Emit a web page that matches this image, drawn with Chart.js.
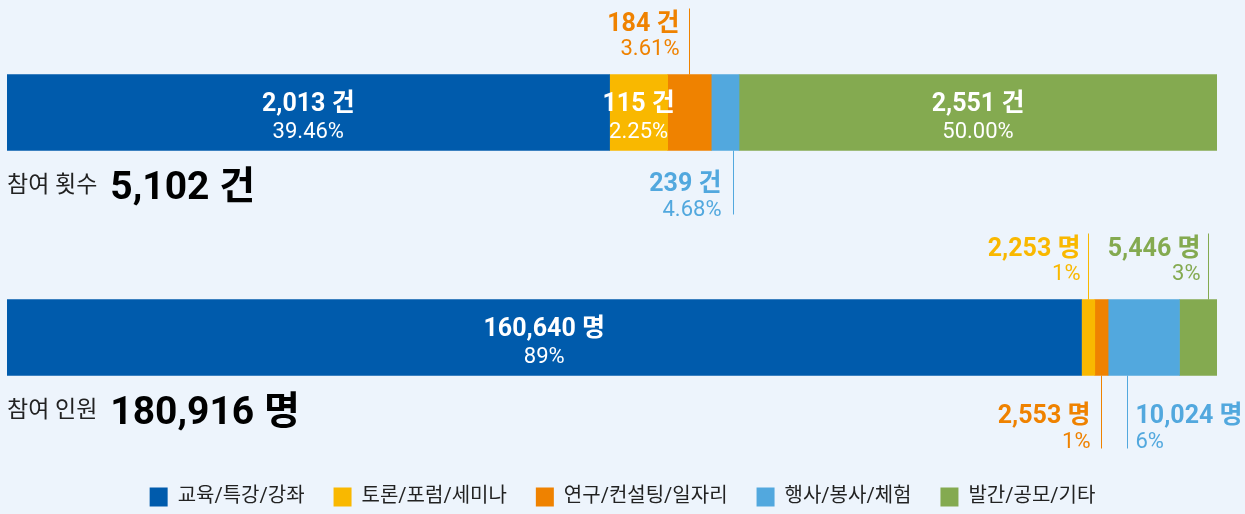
<!DOCTYPE html>
<html><head><meta charset="utf-8">
<script src="https://cdn.jsdelivr.net/npm/chart.js@4"></script>
<style>
html,body{margin:0;padding:0;background:#EDF4FC;}
#wrap{width:1245px;height:514px;position:relative;}
</style>
</head><body><div id="wrap"><canvas id="c"></canvas></div>
<script>
// ---- data ----
const categories = ['교육/특강/강좌','토론/포럼/세미나','연구/컨설팅/일자리','행사/봉사/체험','발간/공모/기타'];
const rowNames = ['참여 횟수','참여 인원'];
const rowTotals = ['5,102','180,916'];
const units = ['건','명'];
// segment shares (%) as drawn in the picture
const countShare = [49.8, 4.8, 3.6, 2.3, 39.5];
const peopleShare = [88.8, 1.1, 1.1, 5.9, 3.1];
// label texts
const countValues = ['2,013','115','184','239','2,551'];
const countPct = ['39.46%','2.25%','3.61%','4.68%','50.00%'];
const peopleValues = ['160,640','2,253','2,553','10,024','5,446'];
const peoplePct = ['89%','1%','1%','6%','3%'];

// ---- style ----
const colors = ['#005BAC','#F9B800','#EF8200','#52A8DE','#84AA50'];
const FAM = "Roboto, 'Noto Sans CJK KR', sans-serif";
const rowValues = [countValues, peopleValues];
const rowPcts = [countPct, peoplePct];
const placement = [['in','in','above','below','in'], ['in','above','below','below','above']];
const align = [['c','c','r','r','c'], ['c','r','r','l','r']];
const lineFrac = [[.5,.5,.5,.78,.5], [.5,.5,.5,.27,.77]];
const gapX = [[0,0,10,12,0], [0,8,11,8,8]];
const belowGeom = [{line:64, bold:40, pct:65}, {line:73, bold:47, pct:72}];
const aboveGeom = {line:66, bold:44, pct:20};

const labelPlugin = {
  id: 'segLabels',
  afterDatasetsDraw(chart) {
    const ctx = chart.ctx;
    ctx.save();
    for (let r = 0; r < 2; r++) {
      let rowBottom = 0;
      for (let i = 0; i < categories.length; i++) {
        const el = chart.getDatasetMeta(i).data[r];
        const p = el.getProps(['x','base','y','height'], true);
        const left = Math.min(p.x, p.base), right = Math.max(p.x, p.base);
        const top = p.y - p.height/2, bottom = p.y + p.height/2;
        rowBottom = bottom;
        const bold = rowValues[r][i] + ' ' + units[r];
        const pct = rowPcts[r][i];
        const pl = placement[r][i];
        if (pl === 'in') {
          const cx = (left + right) / 2;
          ctx.fillStyle = '#ffffff';
          ctx.textAlign = 'center';
          ctx.textBaseline = 'alphabetic';
          ctx.font = 'bold 25px ' + FAM;
          ctx.fillText(bold, cx, top + 36);
          ctx.font = '22px ' + FAM;
          ctx.fillText(pct, cx, top + 63);
        } else {
          const lx = Math.round(left + (right - left) * lineFrac[r][i]) + 0.5;
          ctx.strokeStyle = colors[i];
          ctx.lineWidth = 1;
          ctx.beginPath();
          let yb, yp;
          if (pl === 'above') {
            ctx.moveTo(lx, top - aboveGeom.line); ctx.lineTo(lx, top);
            yb = top - aboveGeom.bold; yp = top - aboveGeom.pct;
          } else {
            const g = belowGeom[r];
            ctx.moveTo(lx, bottom); ctx.lineTo(lx, bottom + g.line);
            yb = bottom + g.bold; yp = bottom + g.pct;
          }
          ctx.stroke();
          const a = align[r][i];
          const tx = a === 'r' ? lx - gapX[r][i] : lx + gapX[r][i];
          ctx.textAlign = a === 'r' ? 'right' : 'left';
          ctx.textBaseline = 'alphabetic';
          ctx.fillStyle = colors[i];
          ctx.font = 'bold 25px ' + FAM;
          ctx.fillText(bold, tx, yb);
          ctx.font = '22px ' + FAM;
          ctx.fillText(pct, tx, yp);
        }
      }
      // row title
      const x0 = chart.chartArea.left;
      const by = rowBottom + 45;
      ctx.textAlign = 'left';
      ctx.textBaseline = 'alphabetic';
      ctx.fillStyle = '#222222';
      ctx.font = '23px ' + FAM;
      ctx.fillText(rowNames[r], x0, by - 4);
      const w = ctx.measureText(rowNames[r]).width;
      ctx.fillStyle = '#000000';
      ctx.font = 'bold 39px ' + FAM;
      ctx.fillText(rowTotals[r] + ' ' + units[r], x0 + w + 13, by + 3);
    }
    ctx.restore();
  }
};

const datasets = categories.map((name, i) => ({
  label: name,
  data: [countShare[i], peopleShare[i]],
  backgroundColor: colors[i],
  borderWidth: 0,
  barThickness: 76,
  stack: 's'
}));

const hiddenAxis = { grid: { display: false }, border: { display: false }, ticks: { display: false } };

new Chart(document.getElementById('c'), {
  type: 'bar',
  data: { labels: rowNames, datasets },
  options: {
    indexAxis: 'y',
    responsive: true,
    maintainAspectRatio: false,
    animation: false,
    events: [],
    layout: { padding: 0 },
    scales: {
      x: { stacked: true, min: 0, max: 100, display: true, ...hiddenAxis,
           afterFit: s => { s.height = 8; } },
      y: { stacked: true, display: true, offset: true, position: 'left', ...hiddenAxis,
           afterFit: s => { s.width = 7; } },
      yRight: { type: 'linear', position: 'right', display: true, ...hiddenAxis,
           afterFit: s => { s.width = 28; } }
    },
    plugins: {
      tooltip: { enabled: false },
      legend: {
        position: 'bottom',
        maxHeight: 56,
        labels: {
          boxWidth: 18, boxHeight: 19, padding: 29, color: '#222222',
          font: { size: 20, family: FAM }
        }
      }
    }
  },
  plugins: [labelPlugin]
});
</script>
</body></html>
